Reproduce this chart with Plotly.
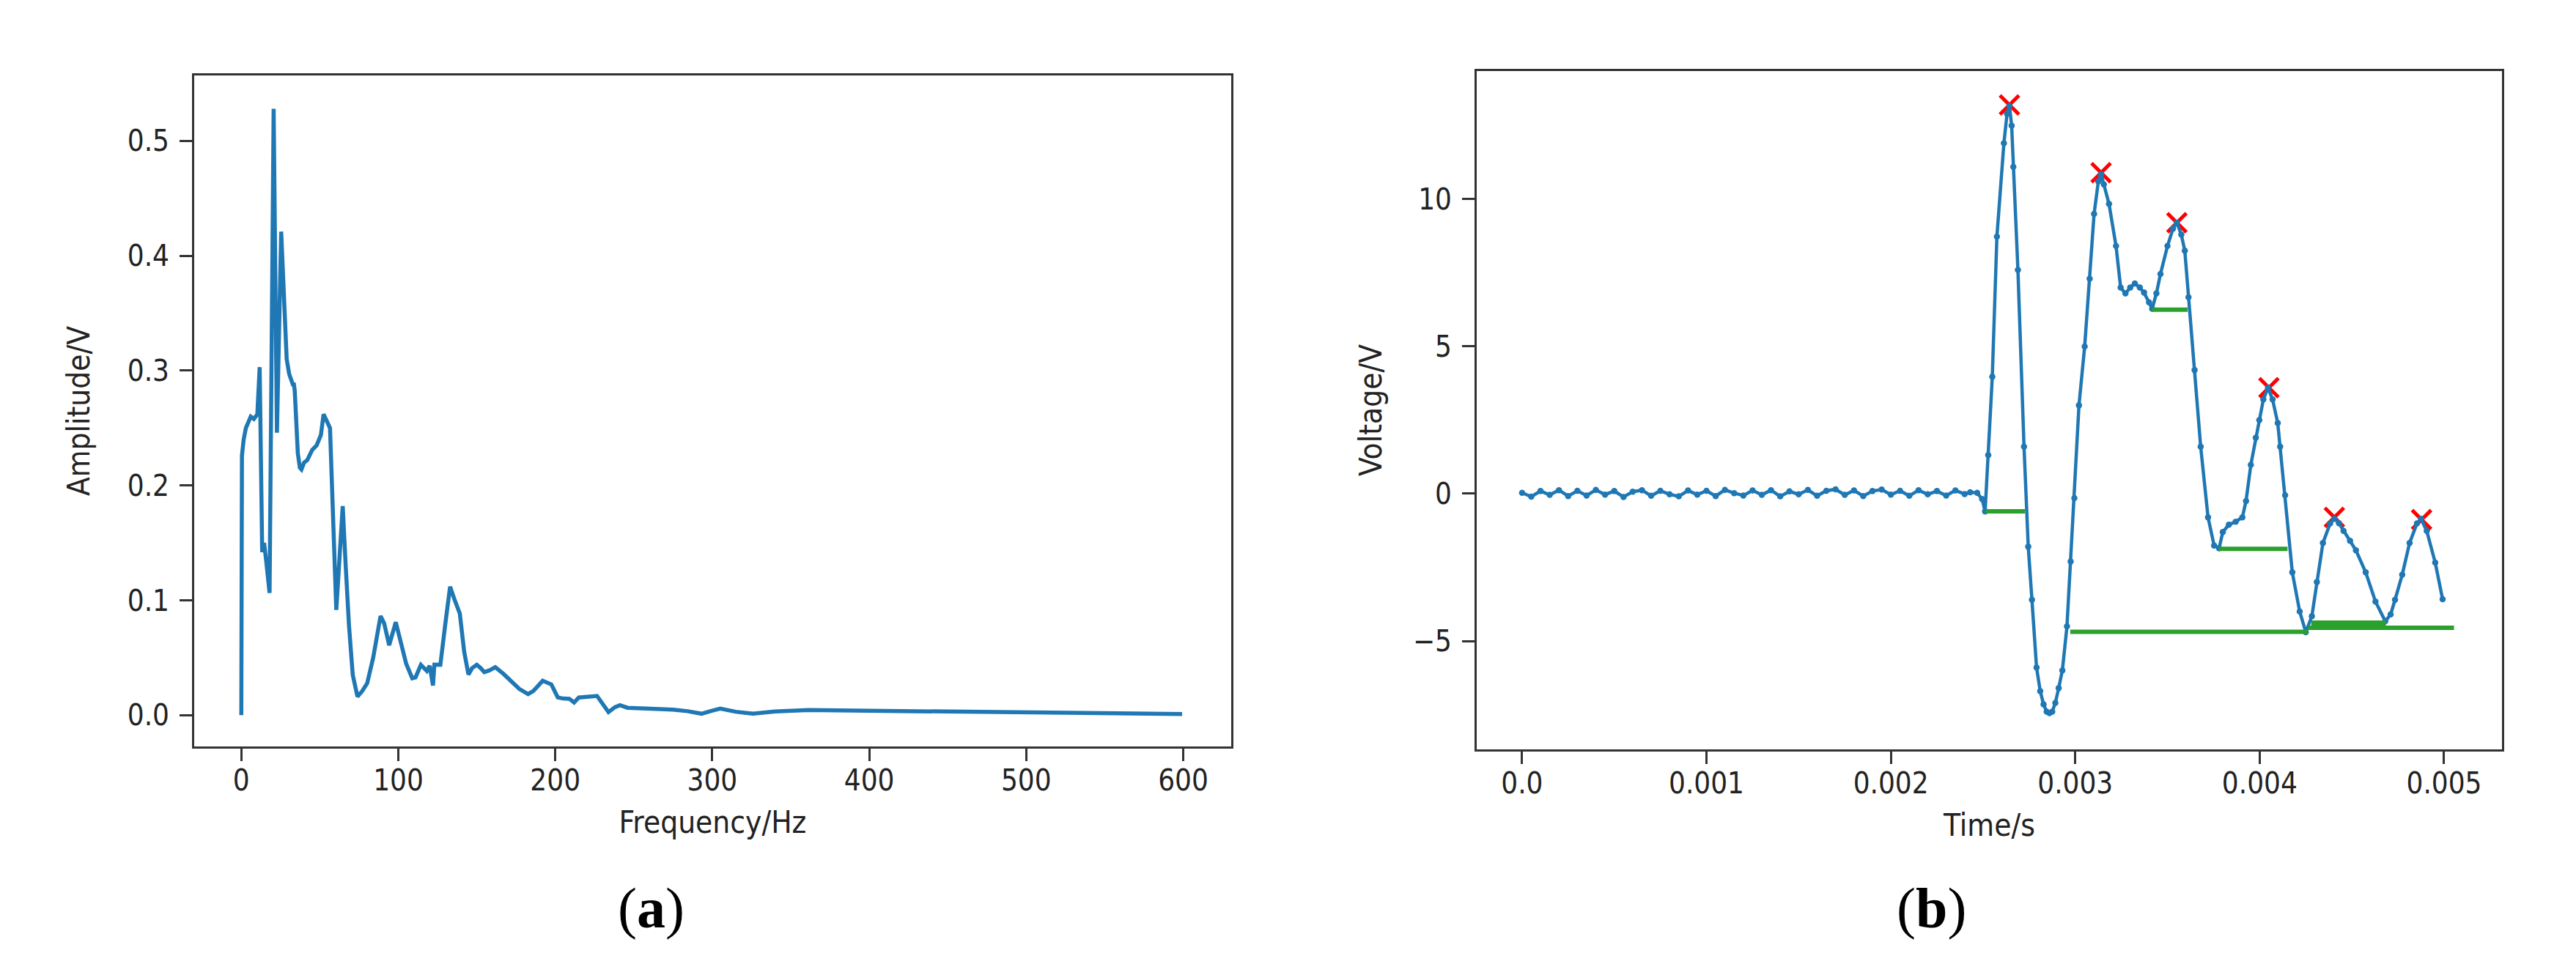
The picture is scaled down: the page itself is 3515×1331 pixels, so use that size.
import plotly.graph_objects as go

# ---- (a) amplitude spectrum ----
freq_hz = [0, 0.4, 1.5, 2.9, 6, 8, 10.2, 11.7, 13.3, 14.5, 15.8, 18.0, 20.6, 22.7, 25.4,
           26.5, 27.5, 28.9, 30.5, 32.8, 33.5, 34.0, 34.5, 36, 37.3, 38.3, 40, 42, 45.2,
           48, 50.7, 52.4, 54.5, 56.5, 60.5, 62, 64.6, 66.5, 68.6, 71, 74, 77, 80.2, 84,
           88.7, 91, 94.2, 98.4, 102, 105, 108.9, 111, 114.4, 116, 118.2, 120, 122.1, 123,
           126.8, 130, 133, 136, 139.2, 142, 144.7, 147, 150, 152.5, 154.8, 158, 161.8,
           167, 172.6, 177, 182.7, 186, 192, 197.5, 201.6, 205, 209, 212, 215, 220, 226.6,
           233.9, 238, 241.2, 246, 255, 266.4, 275, 284.3, 293.2, 300, 305.1, 315, 325.9,
           340, 361.6, 380, 406.1, 425, 444.8, 470, 504.2, 530, 548.8, 575, 599.3]
amplitude_v = [0.0, 0.226, 0.24, 0.25, 0.26, 0.258, 0.262, 0.303, 0.142, 0.15, 0.135, 0.1065,
               0.528, 0.246, 0.421, 0.39, 0.36, 0.31, 0.297, 0.288, 0.288, 0.283, 0.27, 0.228,
               0.2155, 0.214, 0.22, 0.222, 0.231, 0.235, 0.244, 0.262, 0.256, 0.25, 0.0917,
               0.13, 0.182, 0.13, 0.078, 0.035, 0.0162, 0.021, 0.0279, 0.05, 0.0864, 0.08,
               0.0609, 0.081, 0.06, 0.045, 0.0322, 0.033, 0.0439, 0.042, 0.0386, 0.043, 0.0258,
               0.044, 0.0439, 0.08, 0.1119, 0.1, 0.0885, 0.055, 0.0354, 0.041, 0.0439, 0.041,
               0.0375, 0.039, 0.0418, 0.036, 0.029, 0.023, 0.0184, 0.021, 0.030, 0.0268, 0.0155,
               0.0145, 0.0143, 0.011, 0.0154, 0.0158, 0.0168, 0.0027, 0.007, 0.0087, 0.0065,
               0.006, 0.0056, 0.0048, 0.0035, 0.0013, 0.004, 0.0058, 0.003, 0.0013, 0.0032,
               0.0045, 0.0042, 0.0038, 0.0034, 0.0033, 0.0032, 0.0029, 0.0022, 0.0017, 0.0014,
               0.0010]

# ---- (b) voltage signal ----
time_s = [0.0, 0.00005, 0.0001, 0.00015, 0.0002, 0.00025, 0.0003, 0.00035, 0.0004, 0.00045,
          0.0005, 0.00055, 0.0006, 0.00065, 0.0007, 0.00075, 0.0008, 0.00085, 0.0009, 0.00095,
          0.001, 0.00105, 0.0011, 0.00115, 0.0012, 0.00125, 0.0013, 0.00135, 0.0014, 0.00145,
          0.0015, 0.00155, 0.0016, 0.00165, 0.0017, 0.00175, 0.0018, 0.00185, 0.0019, 0.00195,
          0.002, 0.00205, 0.0021, 0.00215, 0.0022, 0.00225, 0.0023, 0.00235, 0.0024,
          0.002430, 0.002468, 0.002495, 0.002511, 0.002528, 0.002550, 0.002575, 0.002613,
          0.002630, 0.002643, 0.002655, 0.002664, 0.002689, 0.002722, 0.002745, 0.002765,
          0.002790, 0.002810, 0.002828, 0.002845, 0.002860, 0.002875, 0.002892, 0.002910,
          0.002930, 0.002955, 0.002975, 0.002995, 0.003020, 0.003051, 0.003078, 0.003102,
          0.003125, 0.003140, 0.003155, 0.003183, 0.003221, 0.003246, 0.003272, 0.003298,
          0.003323, 0.003350, 0.003373, 0.003400, 0.003417, 0.003440, 0.003462, 0.003500,
          0.003530, 0.003551, 0.003575, 0.003594, 0.003614, 0.003647, 0.003680, 0.003720,
          0.003753, 0.003780, 0.003800, 0.003833, 0.003870, 0.003906, 0.003926, 0.003952,
          0.003979, 0.003998, 0.004020, 0.004045, 0.004070, 0.004098, 0.004111, 0.004138,
          0.004177, 0.004217, 0.004250, 0.004283, 0.004310, 0.004343, 0.004382, 0.004405,
          0.004430, 0.004455, 0.004490, 0.004522, 0.004575, 0.004628, 0.004681, 0.004710,
          0.004734, 0.004773, 0.004813, 0.004853, 0.004875, 0.004906, 0.004952, 0.004992]
voltage_v = [0.03, -0.10, 0.09, -0.04, 0.12, -0.08, 0.10, -0.06, 0.13, -0.03,
             0.09, -0.11, 0.07, 0.12, -0.07, 0.10, -0.02, -0.09, 0.11, -0.03,
             0.10, -0.08, 0.13, 0.02, -0.06, 0.11, -0.04, 0.12, -0.09, 0.08,
             -0.02, 0.13, -0.07, 0.10, 0.15, -0.04, 0.11, -0.08, 0.09, 0.14,
             -0.03, 0.10, -0.07, 0.12, -0.02, 0.09, -0.06, 0.11, -0.01,
             0.05, 0.03, -0.18, -0.60, 1.31, 3.97, 8.73, 11.90,
             12.9, 13.17, 12.5, 11.1, 7.6, 1.6, -1.8, -3.6,
             -5.9, -6.7, -7.15, -7.4, -7.45, -7.4, -7.1, -6.6,
             -6.0, -4.5, -2.3, -0.15, 3.0, 5.0, 7.3, 9.5,
             10.6, 10.85, 10.5, 9.84, 8.41, 7.0, 6.8, 7.0,
             7.14, 7.0, 6.83, 6.5, 6.28, 6.8, 7.46, 8.41,
             9.0, 9.2, 8.8, 8.25, 6.67, 4.2, 1.6, -0.8,
             -1.76, -1.85, -1.3, -1.05, -0.95, -0.8, -0.25, 0.98,
             1.9, 2.5, 3.2, 3.6, 3.2, 2.4, 1.6, -0.05,
             -2.67, -4.0, -4.7, -4.16, -3.0, -1.67, -1.01, -0.85,
             -1.0, -1.26, -1.6, -1.92, -2.67, -3.66, -4.33, -4.1,
             -3.6, -2.75, -1.67, -1.01, -0.85, -1.26, -2.34, -3.58]

peak_t = [0.002643, 0.003140, 0.003551, 0.004050, 0.004405, 0.004878]
peak_v = [13.2, 10.9, 9.2, 3.6, -0.8, -0.88]

# horizontal base lines (level, start, end)
base_level = [-0.60, -4.69, 6.25, -1.87, -4.55, -4.38, -4.50]
base_start = [0.002512, 0.002973, 0.003417, 0.003779, 0.004263, 0.004280, 0.004280]
base_end = [0.002727, 0.004263, 0.003609, 0.004151, 0.005054, 0.004684, 0.004684]

BLUE = '#1f77b4'
TXT = '#222222'
TICK_FONT = dict(family='DejaVu Sans Condensed, DejaVu Sans', size=40, color=TXT)
TITLE_FONT = dict(family='DejaVu Sans Condensed, DejaVu Sans', size=42, color=TXT)

fig = go.Figure()

fig.add_trace(go.Scatter(x=freq_hz, y=amplitude_v, mode='lines',
                         line=dict(color=BLUE, width=5.5), xaxis='x', yaxis='y'))

fig.add_trace(go.Scatter(x=peak_t, y=peak_v, mode='markers',
                         marker=dict(symbol='x-thin', size=26, line=dict(color='red', width=5)),
                         xaxis='x2', yaxis='y2'))

fig.add_trace(go.Scatter(x=time_s, y=voltage_v, mode='lines+markers',
                         line=dict(color=BLUE, width=4.5), marker=dict(color=BLUE, size=8.5),
                         xaxis='x2', yaxis='y2'))

hx, hy = [], []
for lvl, a, b in zip(base_level, base_start, base_end):
    hx += [a, b, None]
    hy += [lvl, lvl, None]
fig.add_trace(go.Scatter(x=hx, y=hy, mode='lines', line=dict(color='#2ca02c', width=6),
                         xaxis='x2', yaxis='y2'))

axis_common = dict(showline=True, mirror=True, linecolor='#333333', linewidth=3,
                   ticks='outside', ticklen=17, tickwidth=3, tickcolor='#333333',
                   showgrid=False, zeroline=False, tickfont=TICK_FONT)
x_common = dict(axis_common, ticklabelstandoff=-8)
y_common = dict(axis_common, ticklabelstandoff=6)

fig.update_layout(
    width=3515, height=1331,
    margin=dict(l=0, r=0, t=0, b=0),
    paper_bgcolor='white', plot_bgcolor='white',
    showlegend=False,
    xaxis=dict(domain=[0.07312, 0.47568], range=[-30, 630.6],
               tickvals=[0, 100, 200, 300, 400, 500, 600],
               title=dict(text='Frequency/Hz', font=TITLE_FONT, standoff=21),
               anchor='y', **x_common),
    yaxis=dict(domain=[0.24042, 0.92863], range=[-0.0272, 0.557],
               tickvals=[0, 0.1, 0.2, 0.3, 0.4, 0.5],
               ticktext=['0.0', '0.1', '0.2', '0.3', '0.4', '0.5'],
               title=dict(text='Amplitude/V', font=TITLE_FONT, standoff=39),
               anchor='x', **y_common),
    xaxis2=dict(domain=[0.57098, 0.96899], range=[-0.000246, 0.005314],
                tickvals=[0, 0.001, 0.002, 0.003, 0.004, 0.005],
                ticktext=['0.0', '0.001', '0.002', '0.003', '0.004', '0.005'],
                title=dict(text='Time/s', font=TITLE_FONT, standoff=21),
                anchor='y2', **x_common),
    yaxis2=dict(domain=[0.23741, 0.93313], range=[-8.68, 14.35],
                tickvals=[-5, 0, 5, 10],
                ticktext=['\u22125', '0', '5', '10'],
                title=dict(text='Voltage/V', font=TITLE_FONT, standoff=30),
                anchor='x2', **y_common),
)

label_font = dict(family='Liberation Serif, Times New Roman, serif', size=78, color='black')
fig.add_annotation(text='(<b>a</b>)', xref='paper', yref='paper', x=880 / 3515, y=1 - 1231 / 1331,
                   showarrow=False, font=label_font, xanchor='center', yanchor='middle')
fig.add_annotation(text='(<b>b</b>)', xref='paper', yref='paper', x=2627 / 3515, y=1 - 1231 / 1331,
                   showarrow=False, font=label_font, xanchor='center', yanchor='middle')

fig.write_html('out.html')
